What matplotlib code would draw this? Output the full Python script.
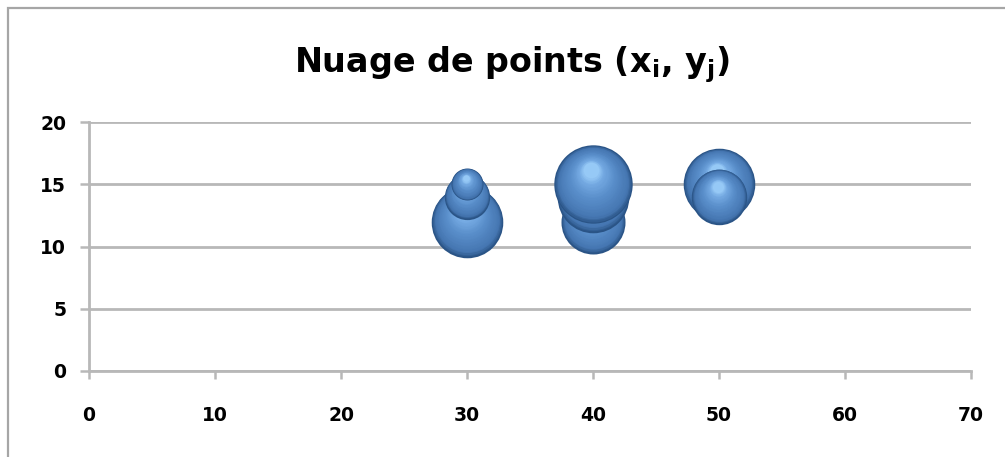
"""Bubble chart 'Nuage de points (xi, yj)' recreated with matplotlib."""

import numpy as np
import matplotlib

matplotlib.use("Agg")
import matplotlib.pyplot as plt
import matplotlib.transforms as mtransforms
from matplotlib.colors import LinearSegmentedColormap
from matplotlib.patches import Rectangle

# data, listed in drawing order (back to front)
x_vals = [30, 30, 30, 40, 40, 40, 50, 50]
y_vals = [12, 14, 15, 12, 14, 15, 15, 14]
counts = [5, 2, 1, 4, 5, 6, 5, 3]

x_ticks = [0, 10, 20, 30, 40, 50, 60, 70]
y_ticks = [0, 5, 10, 15, 20]
title = r"Nuage de points (x$_\mathbf{i}$, y$_\mathbf{j}$)"

DPI = 100
RADIUS_UNIT = 16  # px radius for a count of 1

plt.rcParams["mathtext.fontset"] = "dejavusans"

fig = plt.figure(figsize=(10.05, 4.57), dpi=DPI)
ax = fig.add_axes([89 / 1005, 86 / 457, 882 / 1005, 249 / 457])

grid_col = "#b8b8b8"
ax.set_xlim(0, 70)
ax.set_ylim(0, 20)
ax.set_xticks(x_ticks)
ax.set_yticks(y_ticks)
ax.set_xticklabels([str(v) for v in x_ticks], fontweight="bold", fontsize=13.5)
ax.set_yticklabels([str(v) for v in y_ticks], fontweight="bold", fontsize=13.5)
ax.tick_params(axis="x", length=6, width=1.8, color=grid_col, pad=19)
ax.tick_params(axis="y", length=6.5, width=1.8, color=grid_col, pad=10)
ax.yaxis.grid(True, color=grid_col, linewidth=2)
ax.set_axisbelow(True)
for side in ("top", "right"):
    ax.spines[side].set_visible(False)
for side in ("left", "bottom"):
    ax.spines[side].set_color(grid_col)
    ax.spines[side].set_linewidth(2)

# shaded "3D" bubbles: concentric layers shifted toward a highlight
shade = LinearSegmentedColormap.from_list(
    "bubble",
    [(0.0, "#2a5486"), (0.12, "#4576b1"), (0.55, "#5a8fcb"), (0.85, "#74a9e2"), (1.0, "#96c9f6")],
)
n_layers = 28
for i, (x, y, n) in enumerate(zip(x_vals, y_vals, counts)):
    r_pt = RADIUS_UNIT * np.sqrt(n) * 72 / DPI
    for k in range(n_layers):
        t = k / (n_layers - 1)
        rad = r_pt * (1 - 0.8 * t)
        dy = r_pt * 0.36 * t
        dx = -r_pt * 0.05 * t
        trans = mtransforms.offset_copy(ax.transData, fig=fig, x=dx, y=dy, units="points")
        ax.scatter([x], [y], s=(2 * rad) ** 2, color=shade(t), linewidths=0,
                   transform=trans, zorder=3 + i + t * 0.5, clip_on=False)

fig.text(0.509, 1 - 72 / 457, title, ha="center", va="baseline", fontsize=24, fontweight="bold")

fig.patches.append(Rectangle((8 / 1005, -0.1), 1.2, 1.1 - 8 / 457, transform=fig.transFigure,
                             fill=False, edgecolor="#a6a6a6", linewidth=1.6))

fig.savefig("out.png", dpi=DPI)
